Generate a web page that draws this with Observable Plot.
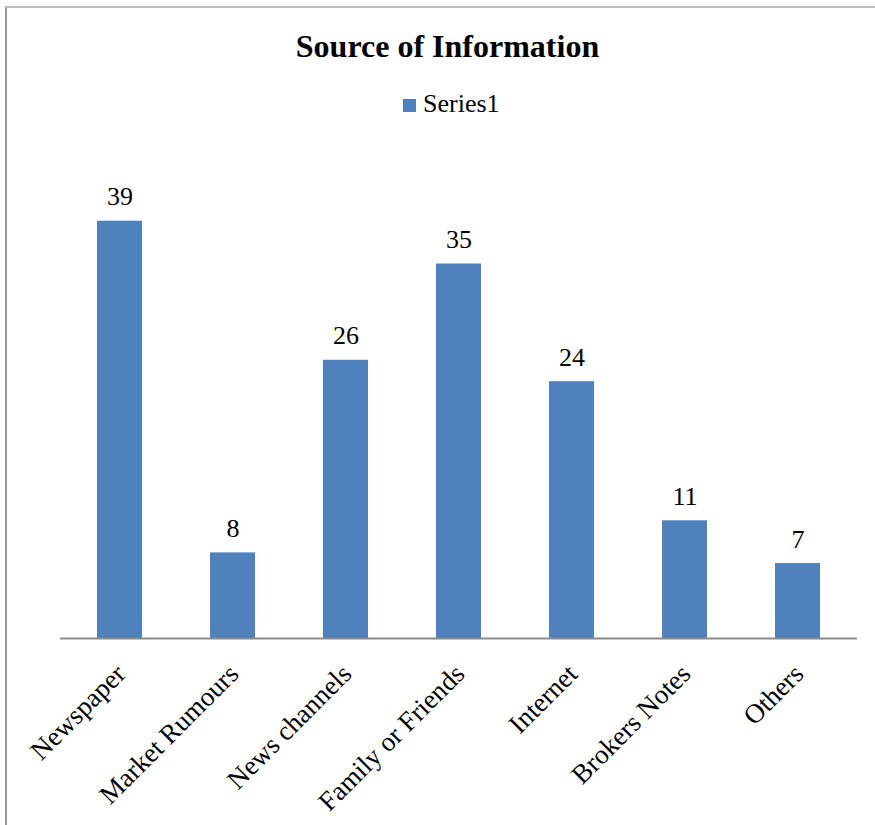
<!DOCTYPE html>
<html>
<head>
<meta charset="utf-8">
<script src="https://cdn.jsdelivr.net/npm/d3@7"></script>
<script src="https://cdn.jsdelivr.net/npm/@observablehq/plot@0.6"></script>
<style>
  html, body { margin: 0; padding: 0; background: #fff; }
  #wrap { position: relative; width: 875px; height: 825px; overflow: hidden; font-family: "Liberation Serif", "Times New Roman", serif; color: #000; }
  #bl { position: absolute; left: 5px; top: 6px; width: 2px; height: 819px; background: #9a9a9a; }
  #bt { position: absolute; left: 5px; top: 6px; width: 870px; height: 2px; background: #bdbdbd; }
  #title { position: absolute; left: 0; width: 895px; top: 30px; text-align: center; font-size: 32px; line-height: 32px; font-weight: bold; }
  #legend { position: absolute; left: 403px; top: 91px; font-size: 26px; line-height: 26px; white-space: nowrap; }
  #legend .sw { display: inline-block; width: 13px; height: 13px; background: #4f81bd; margin-right: 7px; vertical-align: 0px; }
  #chart { position: absolute; left: 0; top: 130px; }
</style>
</head>
<body>
<div id="wrap">
  <div id="bl"></div>
  <div id="bt"></div>
  <div id="title">Source of Information</div>
  <div id="legend"><span class="sw"></span>Series1</div>
  <div id="chart"></div>
</div>
<script>
const categories = ["Newspaper", "Market Rumours", "News channels", "Family or Friends", "Internet", "Brokers Notes", "Others"];
const values = [39, 8, 26, 35, 24, 11, 7];
const seriesName = "Series1";

const data = categories.map((c, i) => ({category: c, value: values[i], series: seriesName}));

const chart = Plot.plot({
  width: 875,
  height: 695,
  marginLeft: 60,
  marginRight: 18,
  marginTop: 80,
  marginBottom: 187,
  style: {fontFamily: "'Liberation Serif', 'Times New Roman', serif", color: "#000", background: "transparent"},
  x: {domain: categories, paddingInner: 0.6, paddingOuter: 0.3, label: null},
  y: {domain: [0, 40], axis: null},
  marks: [
    Plot.barY(data, {x: "category", y: "value", fill: "#4f81bd"}),
    Plot.ruleY([0], {stroke: "#8c8c8c", strokeWidth: 2}),
    Plot.text(data, {x: "category", y: "value", text: d => String(d.value), lineAnchor: "bottom", dy: -16, fontSize: 26, fill: "#000"}),
    Plot.axisX({tickRotate: -45, tickSize: 0, tickPadding: 31, dx: 1, fontSize: 27, fill: "#000", label: null})
  ]
});
document.getElementById("chart").appendChild(chart);
</script>
</body>
</html>
